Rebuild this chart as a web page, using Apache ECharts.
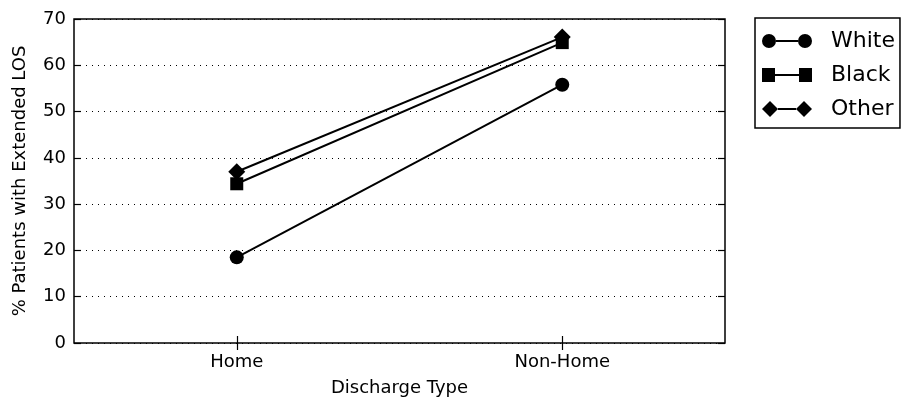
<!DOCTYPE html>
<html><head><meta charset="utf-8">
<script src="https://cdn.jsdelivr.net/npm/echarts@6/dist/echarts.min.js"></script>
<style>html,body{margin:0;padding:0;background:#fff}#c{width:905px;height:408px}</style>
</head><body><div id="c"></div>
<script>
const categories = ['Home', 'Non-Home'];
const white = [18.5, 55.8];
const black = [34.4, 64.9];
const other = [37.0, 66.1];
const yTicks = [0, 10, 20, 30, 40, 50, 60, 70];

const F = 'DejaVu Sans';
const circleIcon = 'path://M0,8a7,7 0 1,1 14,0a7,7 0 1,1 -14,0Z M14,7h22v2h-22Z M36,8a7,7 0 1,1 14,0a7,7 0 1,1 -14,0Z';
const squareIcon = 'path://M0,1h13v14h-13Z M13,7h24v2h-24Z M37,1h13v14h-13Z';
const diamondIcon = 'path://M0,8L8,0L16,8L8,16Z M16,7h18v2h-18Z M34,8L42,0L50,8L42,16Z';

const chart = echarts.init(document.getElementById('c'), null, {renderer: 'canvas'});
const mkSeries = (name, data, symbol, size) => ({
  name, type: 'line', data, symbol, symbolSize: size, xAxisIndex: 0, yAxisIndex: 0,
  lineStyle: {color: '#000', width: 2}, itemStyle: {color: '#000'},
  emphasis: {disabled: true}, z: 5
});
chart.setOption({
  animation: false,
  grid: {left: 74, right: 180, top: 19, bottom: 65, show: true, borderColor: '#000', borderWidth: 1.5, backgroundColor: 'transparent'},
  legend: {
    orient: 'vertical', left: 755, top: 18,
    data: [{name: 'White', icon: circleIcon}, {name: 'Black', icon: squareIcon}, {name: 'Other', icon: diamondIcon}],
    itemWidth: 50, itemHeight: 16, itemGap: 12,
    borderColor: '#000', borderWidth: 1.5, padding: [12, 5, 8, 7],
    textStyle: {fontFamily: F, fontSize: 22, color: '#000', padding: [0, 0, 0, 14]},
    selectedMode: false
  },
  xAxis: [{
    type: 'category', data: categories, boundaryGap: true,
    name: 'Discharge Type', nameLocation: 'middle', nameGap: 36,
    nameTextStyle: {fontFamily: F, fontSize: 18, color: '#000'},
    axisLine: {show: false},
    axisTick: {show: true, inside: true, alignWithLabel: true, length: 7, lineStyle: {color: '#000', width: 1.2}},
    axisLabel: {fontFamily: F, fontSize: 18, color: '#000', margin: 10},
    splitLine: {show: false}
  }, {
    type: 'category', data: categories, boundaryGap: true, position: 'top',
    axisLine: {show: false},
    axisTick: {show: true, inside: true, alignWithLabel: true, length: 7, lineStyle: {color: '#000', width: 1.2}},
    axisLabel: {show: false}, splitLine: {show: false}
  }],
  yAxis: [{
    type: 'value', min: yTicks[0], max: yTicks[yTicks.length - 1], interval: 10,
    name: '% Patients with Extended LOS', nameLocation: 'middle', nameGap: 45,
    nameTextStyle: {fontFamily: F, fontSize: 18, color: '#000'},
    axisLine: {show: false},
    axisTick: {show: true, inside: true, length: 7, lineStyle: {color: '#000', width: 1.2}},
    axisLabel: {fontFamily: F, fontSize: 18, color: '#000', margin: 8},
    splitLine: {show: true, lineStyle: {color: '#000', width: 1, type: [1, 5]}}
  }, {
    type: 'value', min: yTicks[0], max: yTicks[yTicks.length - 1], interval: 10, position: 'right',
    axisLine: {show: false},
    axisTick: {show: true, inside: true, length: 7, lineStyle: {color: '#000', width: 1.2}},
    axisLabel: {show: false}, splitLine: {show: false}
  }],
  series: [
    mkSeries('White', white, 'circle', 14),
    mkSeries('Black', black, 'rect', 13),
    mkSeries('Other', other, 'diamond', 17)
  ]
});
</script></body></html>
